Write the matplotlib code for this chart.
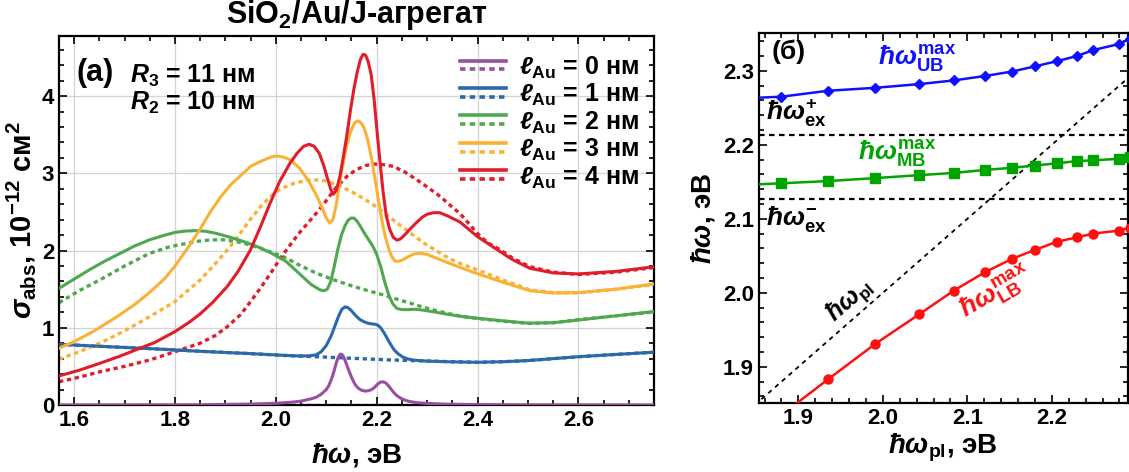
import numpy as np
import matplotlib
matplotlib.use("Agg")
import matplotlib.pyplot as plt
from matplotlib.lines import Line2D
from matplotlib.legend_handler import HandlerBase
from matplotlib.ticker import MultipleLocator

plt.rcParams['font.family'] = ['Liberation Sans', 'DejaVu Sans']
plt.rcParams['font.weight'] = 'bold'
plt.rcParams['axes.labelweight'] = 'bold'
plt.rcParams['mathtext.fontset'] = 'custom'
plt.rcParams['mathtext.rm'] = 'Liberation Sans:bold'
plt.rcParams['mathtext.it'] = 'Liberation Sans:bold:italic'
plt.rcParams['mathtext.bf'] = 'Liberation Sans:bold'

# ---- panel (a): absorption spectra, solid = with J-aggregate, dotted = without
l0_x = [1.57, 1.85, 1.95, 2.00, 2.03, 2.05, 2.07, 2.08, 2.09, 2.10, 2.105, 2.11, 2.115, 2.12, 2.124,
        2.128, 2.132, 2.136, 2.14, 2.145, 2.15, 2.155, 2.16, 2.165, 2.17, 2.177, 2.184, 2.19, 2.196,
        2.202, 2.207, 2.212, 2.217, 2.222, 2.228, 2.234, 2.24, 2.247, 2.255, 2.265, 2.28, 2.30, 2.34,
        2.40, 2.50, 2.75]
l0_y = [0, 0.003, 0.012, 0.022, 0.035, 0.05, 0.08, 0.10, 0.14, 0.20, 0.25, 0.33, 0.43, 0.55, 0.62,
        0.66, 0.65, 0.60, 0.53, 0.44, 0.36, 0.29, 0.24, 0.21, 0.19, 0.18, 0.185, 0.20, 0.23,
        0.27, 0.295, 0.30, 0.29, 0.26, 0.21, 0.16, 0.12, 0.09, 0.065, 0.045, 0.03, 0.02, 0.01,
        0.005, 0.002, 0]
l0_dx = [1.57, 2.75]
l0_dy = [0, 0]

l1_x = [1.57, 1.65, 1.75, 1.85, 1.95, 2.00, 2.04, 2.065, 2.08, 2.09, 2.10, 2.11, 2.118, 2.125, 2.131,
        2.137, 2.143, 2.15, 2.158, 2.166, 2.174, 2.182, 2.19, 2.197, 2.203, 2.209, 2.215, 2.221, 2.228,
        2.235, 2.243, 2.252, 2.262, 2.275, 2.30, 2.35, 2.40, 2.45, 2.50, 2.55, 2.60, 2.675, 2.75]
l1_y = [0.786, 0.76, 0.73, 0.695, 0.665, 0.648, 0.636, 0.635, 0.65, 0.69, 0.77, 0.90, 1.04, 1.16, 1.24,
        1.27, 1.26, 1.22, 1.16, 1.11, 1.08, 1.06, 1.05, 1.045, 1.03, 0.99, 0.93, 0.86, 0.78,
        0.71, 0.66, 0.62, 0.595, 0.58, 0.568, 0.558, 0.553, 0.56, 0.575, 0.60, 0.625, 0.655, 0.683]
l1_dx = [1.57, 1.65, 1.75, 1.85, 1.95, 2.02, 2.08, 2.15, 2.22, 2.28, 2.34, 2.40, 2.45, 2.50, 2.55,
         2.60, 2.675, 2.75]
l1_dy = [0.786, 0.76, 0.73, 0.695, 0.665, 0.64, 0.625, 0.605, 0.585, 0.573, 0.562, 0.553, 0.56,
         0.575, 0.60, 0.625, 0.655, 0.683]

l2_x = [1.57, 1.60, 1.63, 1.66, 1.69, 1.72, 1.75, 1.78, 1.80, 1.82, 1.84, 1.86, 1.88, 1.90, 1.93,
        1.96, 1.99, 2.02, 2.05, 2.07, 2.08, 2.088, 2.095, 2.102, 2.109, 2.116, 2.123, 2.130, 2.137,
        2.143, 2.149, 2.155, 2.161, 2.168, 2.176, 2.184, 2.192, 2.200, 2.208, 2.216, 2.224, 2.232,
        2.240, 2.250, 2.262, 2.275, 2.29, 2.31, 2.34, 2.37, 2.40, 2.45, 2.50, 2.55, 2.60, 2.675, 2.75]
l2_y = [1.51, 1.63, 1.75, 1.86, 1.96, 2.06, 2.14, 2.20, 2.235, 2.252, 2.258, 2.25, 2.225, 2.19, 2.13,
        2.06, 1.97, 1.86, 1.68, 1.56, 1.52, 1.49, 1.478, 1.50, 1.60, 1.80, 2.02, 2.20, 2.32,
        2.39, 2.42, 2.42, 2.38, 2.31, 2.22, 2.14, 2.06, 1.95, 1.79, 1.59, 1.42, 1.31,
        1.25, 1.235, 1.235, 1.24, 1.23, 1.21, 1.175, 1.145, 1.123, 1.09, 1.06, 1.065, 1.10, 1.155, 1.21]
l2_dx = [1.57, 1.61, 1.651, 1.70, 1.75, 1.79, 1.817, 1.845, 1.869, 1.895, 1.922, 1.945, 1.969, 2.015,
         2.05, 2.081, 2.115, 2.147, 2.18, 2.213, 2.24, 2.266, 2.29, 2.319, 2.365, 2.40, 2.45, 2.504,
         2.55, 2.60, 2.675, 2.75]
l2_dy = [1.325, 1.48, 1.62, 1.80, 1.965, 2.05, 2.085, 2.12, 2.137, 2.14, 2.115, 2.08, 2.03, 1.92,
         1.80, 1.705, 1.62, 1.55, 1.485, 1.425, 1.37, 1.32, 1.27, 1.22, 1.15, 1.12, 1.085, 1.055,
         1.065, 1.105, 1.155, 1.205]

l3_x = [1.57, 1.60, 1.64, 1.684, 1.72, 1.75, 1.78, 1.80, 1.825, 1.850, 1.87, 1.89, 1.91, 1.93, 1.95,
        1.97, 1.99, 2.002, 2.015, 2.030, 2.048, 2.065, 2.081, 2.092, 2.100, 2.107, 2.113, 2.120, 2.127,
        2.135, 2.142, 2.149, 2.156, 2.162, 2.168, 2.175, 2.182, 2.189, 2.196, 2.203, 2.210, 2.217,
        2.224, 2.230, 2.236, 2.243, 2.252, 2.262, 2.274, 2.286, 2.30, 2.319, 2.346, 2.37, 2.40, 2.45,
        2.504, 2.55, 2.60, 2.675, 2.75]
l3_y = [0.734, 0.82, 0.96, 1.14, 1.30, 1.46, 1.64, 1.80, 2.03, 2.28, 2.50, 2.69, 2.85, 2.97, 3.09,
        3.155, 3.21, 3.225, 3.21, 3.17, 3.06, 2.90, 2.71, 2.55, 2.42, 2.355, 2.40, 2.60, 2.90,
        3.18, 3.40, 3.55, 3.65, 3.68, 3.66, 3.59, 3.44, 3.22, 2.95, 2.67, 2.40, 2.18,
        2.02, 1.92, 1.865, 1.86, 1.88, 1.92, 1.955, 1.965, 1.95, 1.90, 1.83, 1.77, 1.70, 1.59,
        1.48, 1.45, 1.455, 1.50, 1.567]
l3_dx = [1.57, 1.61, 1.651, 1.70, 1.750, 1.80, 1.850, 1.88, 1.909, 1.93, 1.949, 1.97, 1.989, 2.01,
         2.035, 2.07, 2.10, 2.121, 2.145, 2.167, 2.187, 2.207, 2.226, 2.246, 2.27, 2.293, 2.32, 2.346,
         2.37, 2.40, 2.45, 2.504, 2.55, 2.60, 2.675, 2.75]
l3_dy = [0.592, 0.69, 0.80, 0.96, 1.145, 1.34, 1.62, 1.83, 2.05, 2.23, 2.40, 2.57, 2.70, 2.80,
         2.87, 2.92, 2.90, 2.85, 2.78, 2.70, 2.62, 2.53, 2.43, 2.33, 2.21, 2.10, 1.99, 1.89,
         1.82, 1.75, 1.62, 1.49, 1.455, 1.45, 1.50, 1.56]

l4_x = [1.57, 1.61, 1.651, 1.69, 1.717, 1.76, 1.80, 1.83, 1.850, 1.875, 1.903, 1.925, 1.949, 1.969,
        1.989, 2.008, 2.028, 2.042, 2.055, 2.066, 2.076, 2.086, 2.095, 2.103, 2.109, 2.114, 2.120,
        2.127, 2.134, 2.141, 2.148, 2.155, 2.162, 2.168, 2.173, 2.178, 2.183, 2.189, 2.195, 2.201,
        2.207, 2.213, 2.219, 2.226, 2.233, 2.240, 2.247, 2.255, 2.265, 2.277, 2.29, 2.30, 2.313,
        2.325, 2.340, 2.365, 2.40, 2.445, 2.47, 2.504, 2.55, 2.60, 2.675, 2.75]
l4_y = [0.376, 0.45, 0.54, 0.63, 0.70, 0.81, 0.95, 1.08, 1.18, 1.33, 1.53, 1.73, 2.0, 2.30,
        2.62, 2.90, 3.13, 3.26, 3.35, 3.376, 3.35, 3.26, 3.10, 2.92, 2.79, 2.73, 2.78,
        2.96, 3.22, 3.50, 3.82, 4.10, 4.33, 4.48, 4.54, 4.53, 4.45, 4.28, 3.95, 3.52,
        3.12, 2.74, 2.45, 2.27, 2.17, 2.135, 2.15, 2.20, 2.27, 2.35, 2.43, 2.47, 2.49,
        2.49, 2.45, 2.37, 2.18, 1.985, 1.88, 1.77, 1.71, 1.697, 1.73, 1.79]
l4_dx = [1.57, 1.61, 1.651, 1.70, 1.750, 1.80, 1.850, 1.88, 1.903, 1.93, 1.949, 1.969, 1.989, 2.008,
         2.028, 2.048, 2.068, 2.085, 2.101, 2.12, 2.141, 2.16, 2.178, 2.193, 2.21, 2.233, 2.255, 2.280,
         2.303, 2.326, 2.345, 2.365, 2.38, 2.40, 2.42, 2.445, 2.47, 2.504, 2.55, 2.60, 2.675, 2.75]
l4_dy = [0.30, 0.36, 0.43, 0.50, 0.583, 0.69, 0.80, 0.90, 1.01, 1.17, 1.33, 1.51, 1.70, 1.89,
         2.07, 2.24, 2.39, 2.52, 2.655, 2.82, 2.96, 3.05, 3.10, 3.12, 3.115, 3.09, 3.02, 2.915,
         2.81, 2.70, 2.59, 2.48, 2.37, 2.22, 2.10, 2.01, 1.90, 1.79, 1.72, 1.69, 1.72, 1.78]

l_labels = ["0", "1", "2", "3", "4"]
l_colors = ["#994fa1", "#2c69a9", "#4fa84f", "#f9b236", "#e11d2b"]

# ---- panel (б): band maxima vs plasmon energy
pl_x = [1.82, 1.880, 1.935, 1.991, 2.043, 2.084, 2.121, 2.153, 2.180, 2.206, 2.230, 2.249, 2.279, 2.292]
ub_y = [2.262, 2.265, 2.273, 2.277, 2.282, 2.287, 2.293, 2.299, 2.306, 2.313, 2.320, 2.328, 2.336, 2.343]
mb_y = [2.145, 2.148, 2.151, 2.155, 2.159, 2.162, 2.166, 2.169, 2.172, 2.175, 2.178, 2.179, 2.181, 2.183]
lb_y = [1.80, 1.835, 1.883, 1.931, 1.971, 2.003, 2.028, 2.046, 2.058, 2.069, 2.075, 2.080, 2.084, 2.088]
ex_plus = 2.2135
ex_minus = 2.127

fig = plt.figure(figsize=(11.29, 4.72), dpi=100)
ax1 = fig.add_axes([0.0523, 0.142, 0.527, 0.782])
ax2 = fig.add_axes([0.672, 0.146, 0.327, 0.784])

dots = (0, (1.3, 1.1))
series = [(l0_x, l0_y, l0_dx, l0_dy), (l1_x, l1_y, l1_dx, l1_dy), (l2_x, l2_y, l2_dx, l2_dy),
          (l3_x, l3_y, l3_dx, l3_dy), (l4_x, l4_y, l4_dx, l4_dy)]
handles = []
for (sx, sy, dx, dy), c in zip(series, l_colors):
    ax1.plot(dx, dy, color=c, lw=2.4, ls=dots, zorder=2)
    h, = ax1.plot(sx, sy, color=c, lw=2.2, zorder=3, solid_joinstyle="round")
    handles.append(h)


class SolidDotted(HandlerBase):
    def create_artists(self, legend, orig_handle, xdescent, ydescent, width, height, fontsize, trans):
        c = orig_handle.get_color()
        a = Line2D([-xdescent, width - xdescent], [height * 0.8] * 2, color=c, lw=2.6, transform=trans)
        b = Line2D([-xdescent, width - xdescent], [height * 0.3] * 2, color=c, lw=2.6,
                   ls=(0, (1.5, 1.2)), transform=trans)
        return [a, b]


ax1.legend(handles, [r"$ℓ_{\rm Au}$ = %s нм" % s for s in l_labels],
           handler_map={Line2D: SolidDotted()}, loc="upper right", bbox_to_anchor=(1.0, 0.99),
           frameon=False, fontsize=18, handlelength=1.85, handletextpad=0.5, labelspacing=0.05,
           borderpad=0.1)

ax1.set_xlim(1.57, 2.75)
ax1.set_ylim(0, 4.78)
ax1.set_xticks([1.6, 1.8, 2.0, 2.2, 2.4, 2.6])
ax1.set_xticklabels(["1.6", "1.8", "2.0", "2.2", "2.4", "2.6"])
ax1.set_yticks([0, 1, 2, 3, 4])
ax1.xaxis.set_minor_locator(MultipleLocator(0.05))
ax1.yaxis.set_minor_locator(MultipleLocator(0.2))
ax1.grid(True, which="major", color="#d4d4d4", lw=0.9)
ax1.set_axisbelow(True)
ax1.set_xlabel(r"$ħω$, эВ", fontsize=20, labelpad=7)
ax1.set_ylabel(r"$σ_{\rm abs}$, $10^{-12}$ см$^{2}$", fontsize=21, labelpad=3)
fig.text(0.3155, 0.968, r"SiO$_{2}$/Au/J-агрегат", fontsize=22, ha="center", va="center")
ax1.text(0.061, 0.90, "(a)", transform=ax1.transAxes, fontsize=22, ha="center", va="center")
ax1.text(0.12, 0.892, r"$R_{3}$ = 11 нм", transform=ax1.transAxes, fontsize=18, ha="left", va="center")
ax1.text(0.12, 0.818, r"$R_{2}$ = 10 нм", transform=ax1.transAxes, fontsize=18, ha="left", va="center")

# right panel
ax2.axhline(ex_plus, color="black", lw=1.6, ls=(0, (2.5, 2.0)), zorder=1)
ax2.axhline(ex_minus, color="black", lw=1.6, ls=(0, (2.5, 2.0)), zorder=1)
ax2.plot([1.80, 2.40], [1.80, 2.40], color="black", lw=1.3, ls=(0, (2.5, 2.5)), zorder=1)
ax2.plot(pl_x, ub_y, color="#1010ff", lw=1.8, marker="D", ms=5.5, zorder=3)
ax2.plot(pl_x, mb_y, color="#00a400", lw=1.8, marker="s", ms=6.5, zorder=3)
ax2.plot(pl_x, lb_y, color="#ff1010", lw=1.8, marker="o", ms=6.5, zorder=3)

ax2.set_xlim(1.853, 2.29)
ax2.set_ylim(1.851, 2.351)
ax2.set_xticks([1.9, 2.0, 2.1, 2.2])
ax2.set_yticks([1.9, 2.0, 2.1, 2.2, 2.3])
ax2.xaxis.set_minor_locator(MultipleLocator(0.02))
ax2.yaxis.set_minor_locator(MultipleLocator(0.02))
ax2.set_xlabel(r"$ħω_{\rm pl}$, эВ", fontsize=20, labelpad=2)
ax2.set_ylabel(r"$ħω$, эВ", fontsize=20, labelpad=4)

ax2.text(1.889, 2.326, "(б)", fontsize=19, ha="center", va="center")
ax2.text(1.994, 2.316, r"$ħω_{\rm UB}^{\rm max}$", color="#1010ff", fontsize=19, ha="left", va="center")
ax2.text(1.862, 2.242, r"$ħω_{\rm ex}^{+}$", color="black", fontsize=19, ha="left", va="center")
ax2.text(1.971, 2.188, r"$ħω_{\rm MB}^{\rm max}$", color="#00a400", fontsize=19, ha="left", va="center")
ax2.text(1.862, 2.100, r"$ħω_{\rm ex}^{-}$", color="black", fontsize=19, ha="left", va="center")
ax2.text(1.961, 1.990, r"$ħω_{\rm pl}$", color="black", fontsize=18, ha="center", va="center", rotation=41)
ax2.text(2.134, 2.000, r"$ħω_{\rm LB}^{\rm max}$", color="#ff1010", fontsize=19, ha="center", va="center",
         rotation=30)

for ax in (ax1, ax2):
    ax.tick_params(which="both", direction="in", top=True, right=True, labelsize=16, width=1.2)
    ax.tick_params(which="major", length=6)
    ax.tick_params(which="minor", length=3.5)
    for lab in ax.get_xticklabels() + ax.get_yticklabels():
        lab.set_fontweight("bold")
    for sp in ax.spines.values():
        sp.set_linewidth(1.6)

fig.savefig("out.png", dpi=100)
